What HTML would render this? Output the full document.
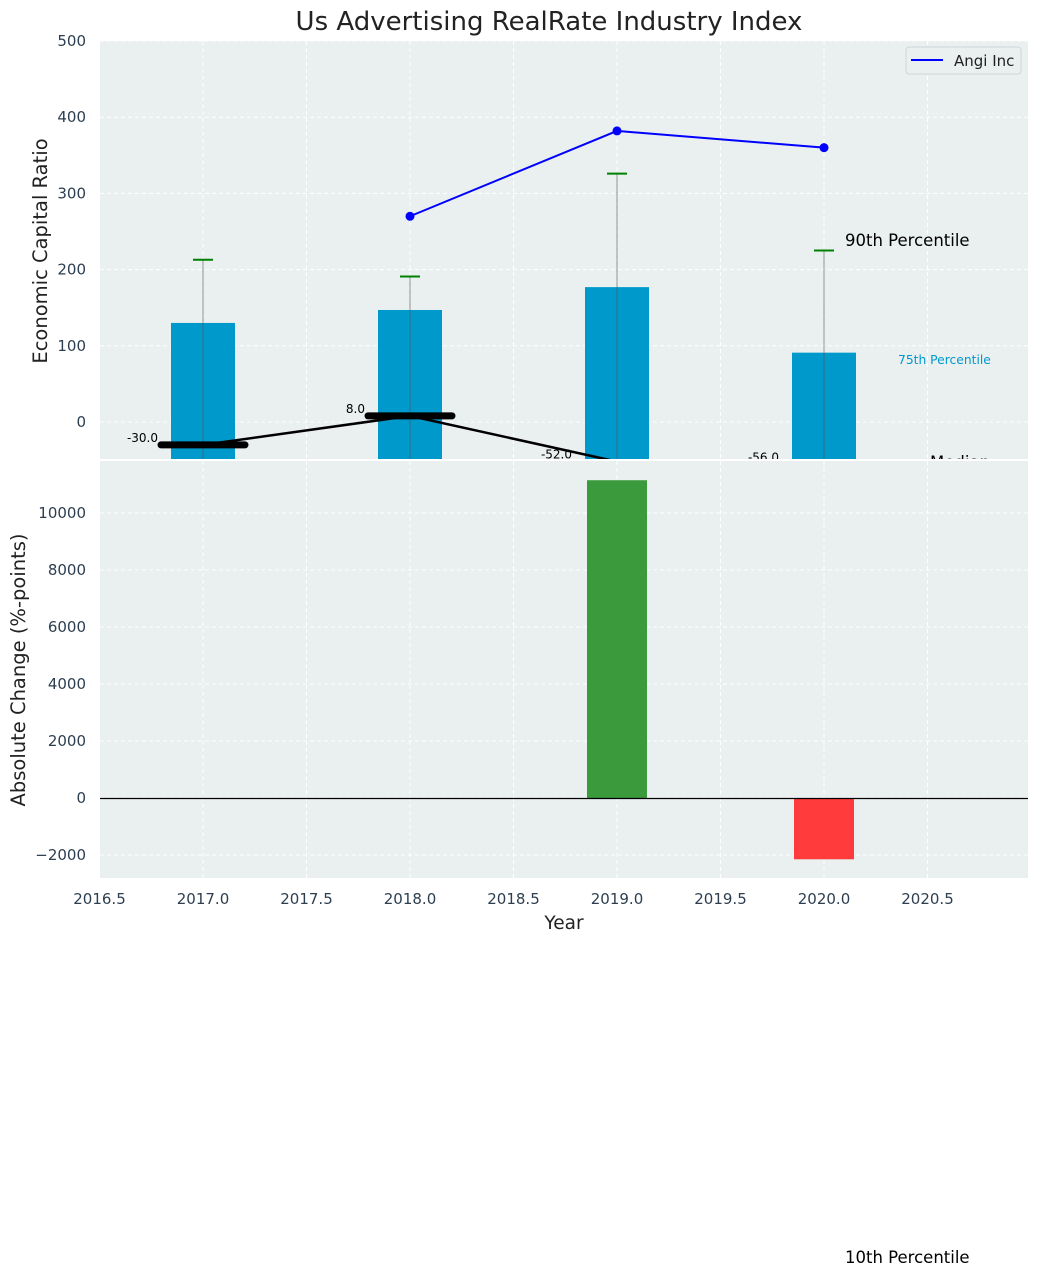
<!DOCTYPE html>
<html><head><meta charset="utf-8"><style>
body{margin:0;background:#fff;}
svg{display:block;font-family:"DejaVu Sans","Liberation Sans",sans-serif;}
</style></head><body>
<svg id="c" width="1039" height="1277" xmlns="http://www.w3.org/2000/svg"></svg>
<script>
const years=[2017,2018,2019,2020];
const barVals=[130,147,177,91];
const errTop=[213,191,326,225];
const angiYears=[2018,2019,2020];
const angiVals=[270,382,360];
const medianVals=[-30,8,-52,-56];
const medianLabels=["-30.0","8.0","-52.0","-56.0"];
const changeVals=[0,0,11150,-2150];
const yTopTicks=[0,100,200,300,400,500];
const yBotTicks=[-2000,0,2000,4000,6000,8000,10000];
const xTicks=[2016.5,2017.0,2017.5,2018.0,2018.5,2019.0,2019.5,2020.0,2020.5];

const NS="http://www.w3.org/2000/svg";
const svg=document.getElementById('c');
function el(t,a,p){const e=document.createElementNS(NS,t);for(const k in a)e.setAttribute(k,a[k]);(p||svg).appendChild(e);return e;}
const L=100,R=1028;
const x=v=>99.5+(v-2016.5)*207;
const yT=v=>422-v*0.762;
const yB=v=>798-v*0.0285;

let t=el('text',{x:549,y:30,'text-anchor':'middle','font-size':26,fill:'#222'});t.textContent='Us Advertising RealRate Industry Index';


const gT=el('g',{});

el('rect',{x:L,y:41,width:R-L,height:420,fill:'#eaeff0'},gT);
xTicks.forEach(v=>el('line',{x1:x(v),x2:x(v),y1:41,y2:461,stroke:'#fff','stroke-dasharray':'4,3','stroke-width':1},gT));
yTopTicks.forEach(v=>{el('line',{x1:L,x2:R,y1:yT(v),y2:yT(v),stroke:'#fff','stroke-dasharray':'4,3'},gT);
 const tx=el('text',{x:86,y:yT(v)+5,'text-anchor':'end','font-size':15,fill:'#2c3e50'},gT);tx.textContent=v;
 });
years.forEach((yr,i)=>{
 const b=el('rect',{x:x(yr)-32,y:yT(barVals[i]),width:64,height:470-yT(barVals[i]),fill:'#0099cc'},gT);
 
 el('line',{x1:x(yr),x2:x(yr),y1:yT(errTop[i]),y2:470,stroke:'#555','stroke-width':1,opacity:0.6},gT);
 el('line',{x1:x(yr)-10,x2:x(yr)+10,y1:yT(errTop[i]),y2:yT(errTop[i]),stroke:'green','stroke-width':2},gT);
});
el('polyline',{points:years.map((yr,i)=>x(yr)+','+yT(medianVals[i])).join(' '),fill:'none',stroke:'#000','stroke-width':2.5},gT);
years.forEach((yr,i)=>{
 const m=el('line',{x1:x(yr)-42,x2:x(yr)+42,y1:yT(medianVals[i]),y2:yT(medianVals[i]),stroke:'#000','stroke-width':i<2?7:2,'stroke-linecap':'round'},gT);
 
 const lt=el('text',{x:x(yr)-45,y:yT(medianVals[i])-3,'text-anchor':'end','font-size':12,fill:'#000'},gT);lt.textContent=medianLabels[i];
 
});
el('polyline',{points:angiYears.map((yr,i)=>x(yr)+','+yT(angiVals[i])).join(' '),fill:'none',stroke:'blue','stroke-width':2},gT);
angiYears.forEach((yr,i)=>{const c=el('circle',{cx:x(yr),cy:yT(angiVals[i]),r:4.5,fill:'blue'},gT);
 });
let a=el('text',{x:845,y:246,'font-size':16.5,fill:'#000'},gT);a.textContent='90th Percentile';

a=el('text',{x:898,y:364,'font-size':12.3,fill:'#0099cc'},gT);a.textContent='75th Percentile';

a=el('text',{x:930,y:468,'font-size':16.5,fill:'#000'},gT);a.textContent='Median';

let yl=el('text',{transform:'translate(47,251) rotate(-90)','text-anchor':'middle','font-size':19.5,fill:'#222'},gT);yl.textContent='Economic Capital Ratio';

const lg=el('g',{},gT);
el('rect',{x:906,y:47,width:115,height:27,rx:3,fill:'#eaeff0',stroke:'#d0d5d8'},lg);
el('line',{x1:911,x2:943,y1:60,y2:60,stroke:'blue','stroke-width':2},lg);
a=el('text',{x:954,y:66,'font-size':15,fill:'#222'},lg);a.textContent='Angi Inc';


const gB=el('g',{});
el('rect',{x:0,y:459,width:1039,height:2,fill:'#fff'},gB);
el('rect',{x:L,y:461,width:R-L,height:417,fill:'#eaeff0'},gB);
el('rect',{x:0,y:461,width:L,height:20,fill:'#fff'},gB);
el('rect',{x:R,y:461,width:11,height:20,fill:'#fff'},gB);
xTicks.forEach(v=>{el('line',{x1:x(v),x2:x(v),y1:461,y2:878,stroke:'#fff','stroke-dasharray':'4,3'},gB);
 const tx=el('text',{x:x(v),y:904,'text-anchor':'middle','font-size':15,fill:'#2c3e50'},gB);tx.textContent=v.toFixed(1);
 });
yBotTicks.forEach(v=>{el('line',{x1:L,x2:R,y1:yB(v),y2:yB(v),stroke:'#fff','stroke-dasharray':'4,3'},gB);
 const tx=el('text',{x:86,y:yB(v)+5,'text-anchor':'end','font-size':15,fill:'#2c3e50'},gB);tx.textContent=(v<0?'\u2212'+(-v):v);
 });
years.forEach((yr,i)=>{const v=changeVals[i];if(!v)return;
 const b=el('rect',{x:x(yr)-30,y:Math.min(yB(v),yB(0)),width:60,height:Math.abs(yB(v)-yB(0)),fill:v>0?'#3a9a3c':'#ff3b3b'},gB);
 });
el('line',{x1:L,x2:R,y1:yB(0)+0.5,y2:yB(0)+0.5,stroke:'#000','stroke-width':1.2},gB);
yl=el('text',{transform:'translate(25,670) rotate(-90)','text-anchor':'middle','font-size':19.5,fill:'#222'},gB);yl.textContent='Absolute Change (%-points)';

a=el('text',{x:564,y:929,'text-anchor':'middle','font-size':18.5,fill:'#222'},gB);a.textContent='Year';

a=el('text',{x:845,y:1263,'font-size':16.5,fill:'#000'},gB);a.textContent='10th Percentile';

</script>
</body></html>
